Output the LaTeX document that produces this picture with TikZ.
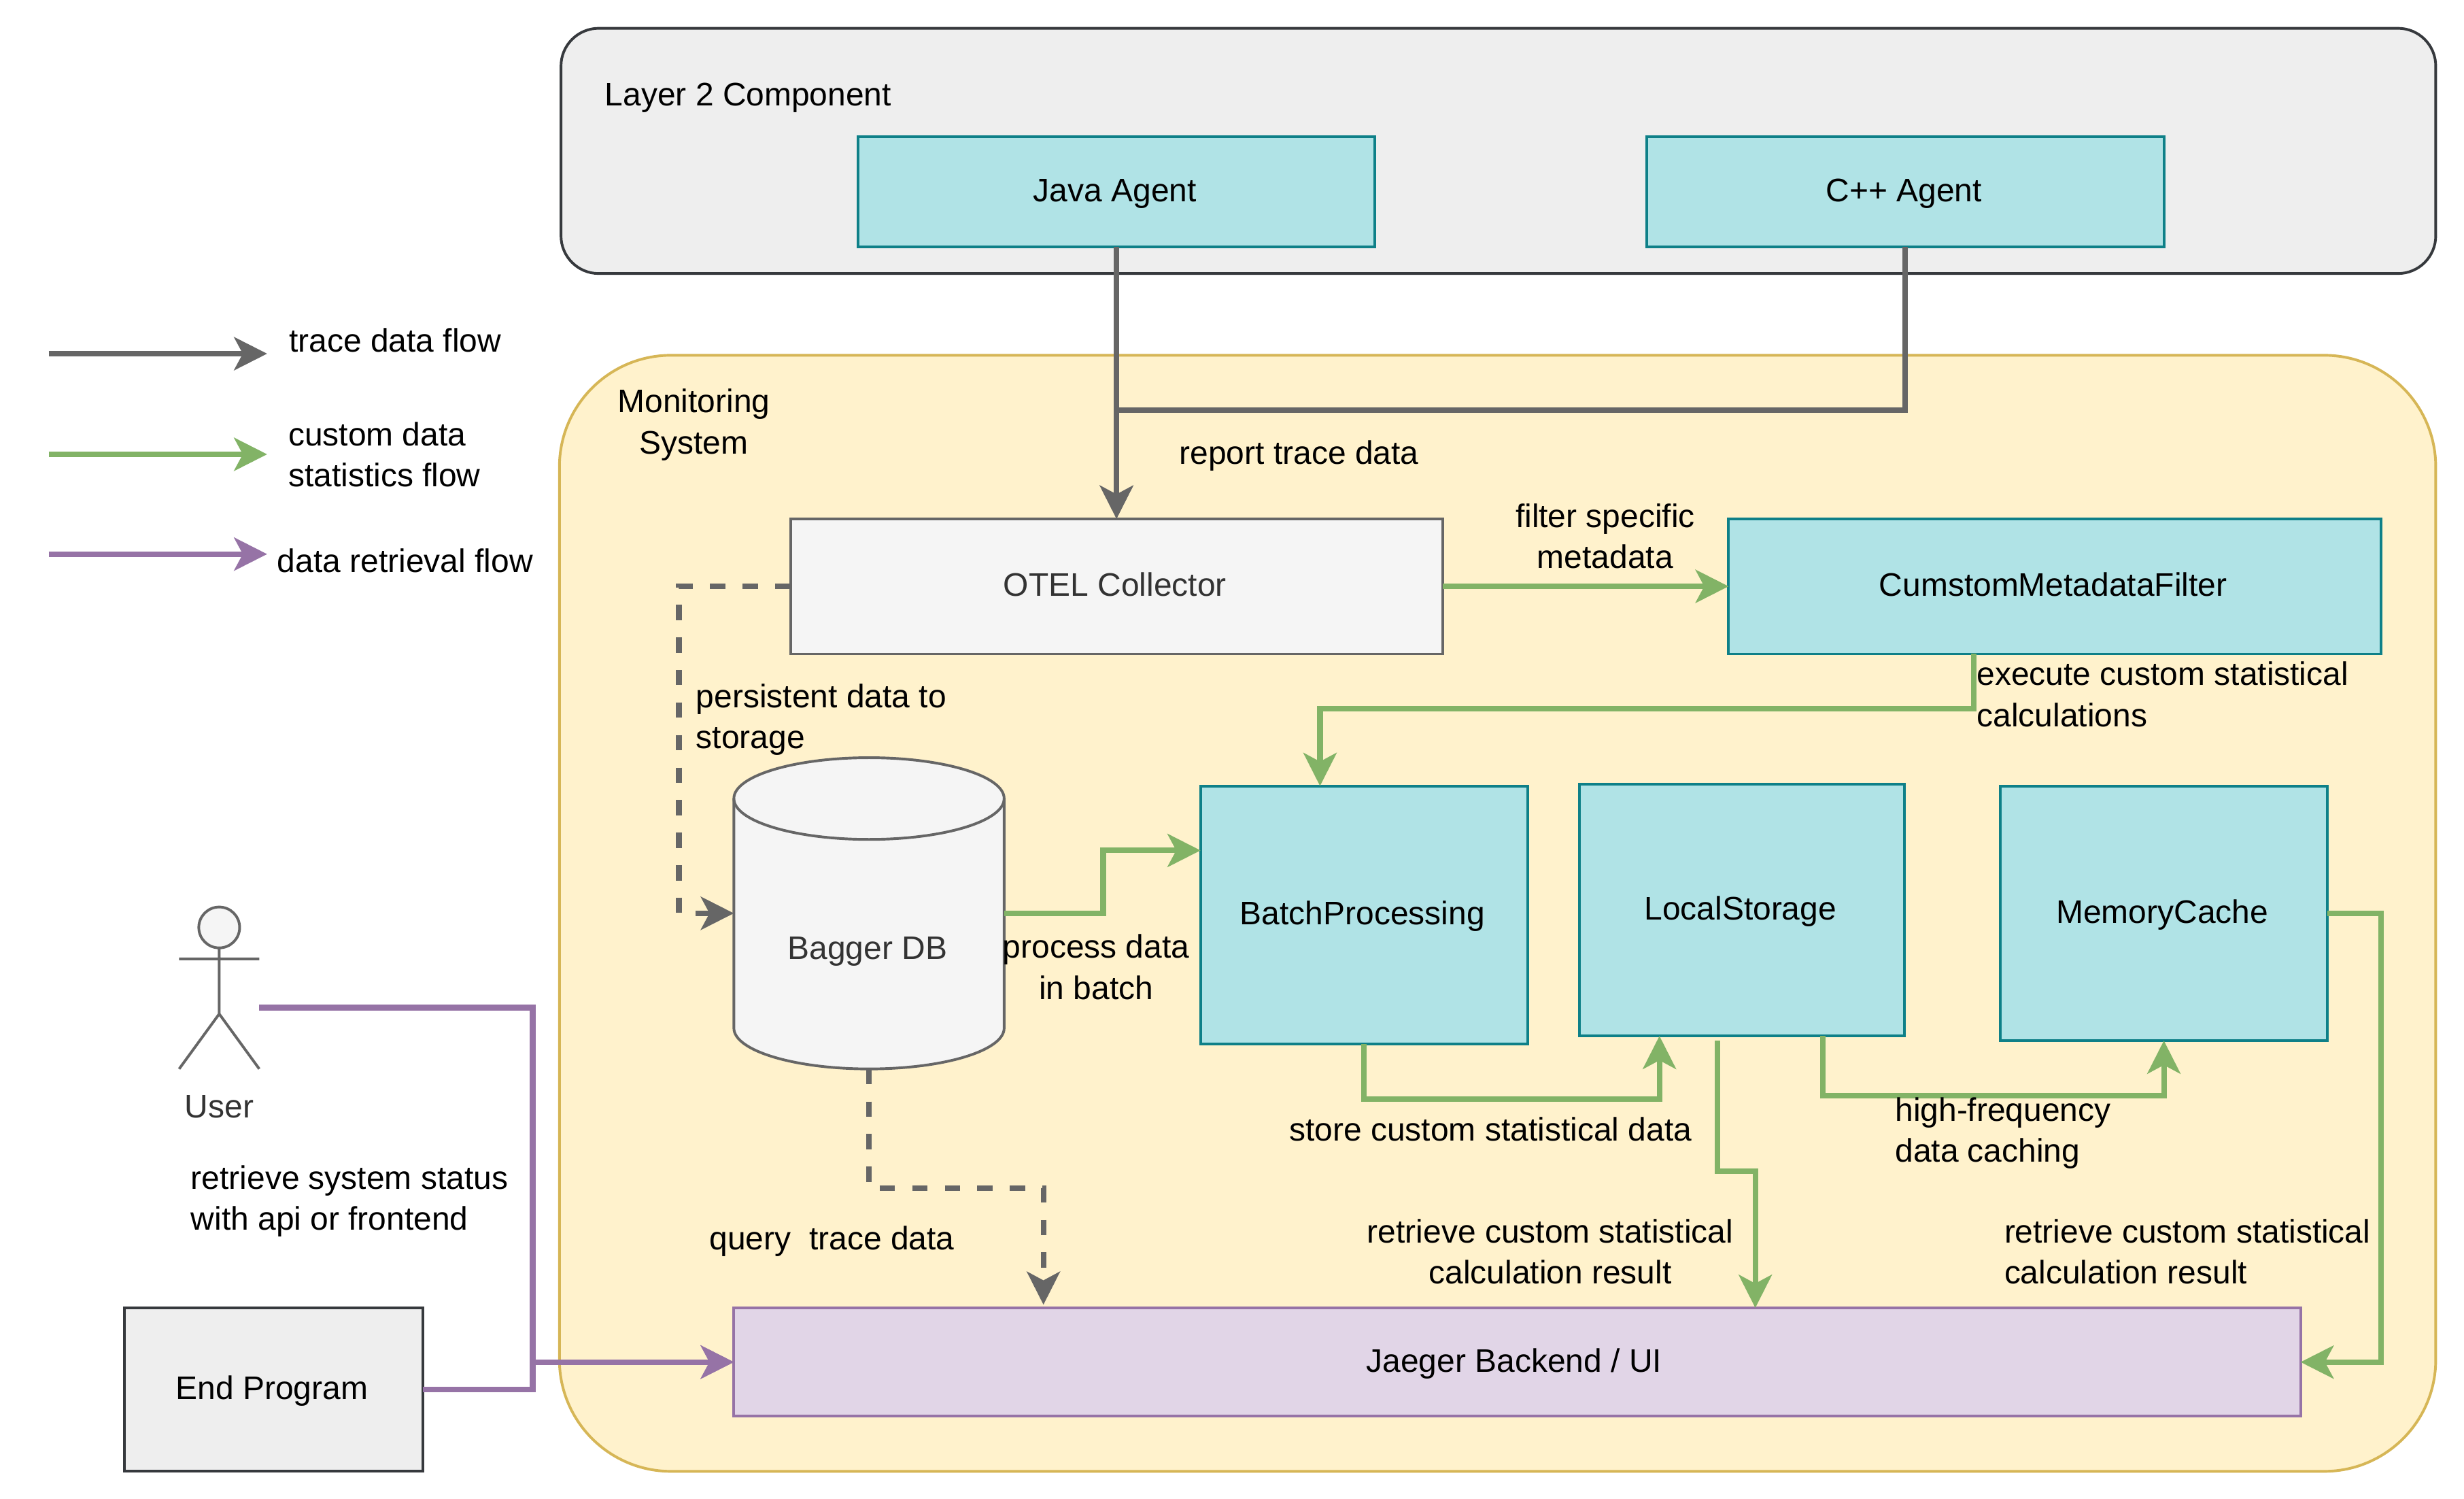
\documentclass[tikz,border=0pt]{standalone}
\usepackage{fontspec}
\setmainfont{Liberation Sans}
\usetikzlibrary{arrows.meta}
\definecolor{tealfill}{HTML}{B0E3E6}
\definecolor{tealline}{HTML}{0E8088}
\definecolor{greyfill}{HTML}{EEEEEE}
\definecolor{greyline}{HTML}{36393D}
\definecolor{yelfill}{HTML}{FFF2CC}
\definecolor{yelline}{HTML}{D6B656}
\definecolor{lightfill}{HTML}{F5F5F5}
\definecolor{midline}{HTML}{666666}
\definecolor{labelgrey}{HTML}{333333}
\definecolor{purfill}{HTML}{E1D5E7}
\definecolor{purline}{HTML}{9673A6}
\definecolor{grnline}{HTML}{82B366}
\tikzset{
  x=1pt,y=-1pt,
  >={Stealth[length=21pt,width=21pt,inset=5.5pt]},
  txt/.style={font=\fontsize{20.75}{26}\selectfont,inner sep=0pt,outer sep=0pt,
     execute at begin node={\rule{0pt}{20.2pt}},execute at end node=\strut},
  lbl/.style={txt,align=left,anchor=west,yshift=-1pt},
  clbl/.style={txt,align=center,anchor=center,yshift=-1pt},
  twolines/.style={yshift=-2pt},
  boxbase/.style={txt,draw,line width=1.7pt,align=center},
  tealbox/.style={boxbase,fill=tealfill,draw=tealline},
  greybox/.style={boxbase,fill=greyfill,draw=greyline},
  lightbox/.style={boxbase,fill=lightfill,draw=midline,text=labelgrey},
  purbox/.style={boxbase,fill=purfill,draw=purline},
  trace/.style={draw=midline,line width=3.5pt,->},
  tracedash/.style={trace,dash pattern=on 9.7pt off 11pt},
  stat/.style={draw=grnline,line width=3.5pt,->},
  retr/.style={draw=purline,line width=3.5pt,->},
}
\begin{document}
\begin{tikzpicture}
\useasboundingbox (0,0) rectangle (1568,953.6);
% containers
\node[greybox,rounded corners=24pt,minimum width=1193,minimum height=156] (layer) at (953.5,96) {};
\node[boxbase,fill=yelfill,draw=yelline,rounded corners=71pt,minimum width=1194,minimum height=710] (mon) at (953,581) {};
% agents
\node[tealbox,minimum width=329,minimum height=70] (java) at (710.5,122) {\hspace*{-2pt}Java Agent};
\node[tealbox,minimum width=329,minimum height=70] (cpp) at (1212.5,122) {\hspace*{-2pt}C++ Agent};
% components
\node[lightbox,minimum width=415,minimum height=86] (otel) at (710.5,373) {\hspace*{-2pt}OTEL Collector};
\node[tealbox,minimum width=415,minimum height=86] (filter) at (1307.5,373) {\hspace*{-2pt}CumstomMetadataFilter};
\node[tealbox,minimum width=208,minimum height=164] (batch) at (868,582) {\hspace*{-2pt}BatchProcessing};
\node[tealbox,minimum width=207,minimum height=160] (local) at (1108.5,579) {\hspace*{-2pt}LocalStorage};
\node[tealbox,minimum width=208,minimum height=162] (mem) at (1377,581) {\hspace*{-2pt}MemoryCache};
\node[purbox,minimum width=997,minimum height=69] (jaeger) at (965.5,866.5) {\hspace*{-4pt}Jaeger Backend / UI};
\node[greybox,minimum width=190,minimum height=104] (endp) at (174,884) {\hspace*{-2pt}End Program};
% database cylinder
\draw[fill=lightfill,draw=midline,line width=1.7pt]
  (467,508) .. controls (467,493.6) and (505.5,482) .. (553,482)
  .. controls (600.5,482) and (639,493.6) .. (639,508) -- (639,654)
  .. controls (639,668.4) and (600.5,680) .. (553,680)
  .. controls (505.5,680) and (467,668.4) .. (467,654) -- cycle;
\draw[draw=midline,line width=1.7pt]
  (467,508) .. controls (467,522.4) and (505.5,534) .. (553,534)
  .. controls (600.5,534) and (639,522.4) .. (639,508);
\node[inner sep=0pt,outer sep=0pt,minimum width=172,minimum height=198] (db) at (553,581) {};
\node[clbl,text=labelgrey] (dblabel) at (552,603) {Bagger DB};
% user actor
\node[inner sep=0pt,outer sep=0pt,minimum width=51,minimum height=103] (user) at (139.5,628.5) {};
\draw[draw=midline,line width=1.7pt,fill=lightfill] (139.5,590) circle (13pt);
\draw[draw=midline,line width=1.7pt,line join=miter]
  (139.5,603) -- (139.5,645) (114,610) -- (165,610)
  (114,680) -- (139.5,645) -- (165,680);
\node[clbl,text=labelgrey] (userlabel) at (139.5,704) {User};
% legend
\coordinate (la1) at (31,225); \coordinate (lb1) at (170,225);
\coordinate (la2) at (31,289); \coordinate (lb2) at (170,289);
\coordinate (la3) at (31,352.5); \coordinate (lb3) at (170,352.5);
\draw[trace] (la1) -- (lb1);
\draw[stat] (la2) -- (lb2);
\draw[retr] (la3) -- (lb3);
% trace flow
\draw[trace] (java.south) -- (otel.north);
\draw[trace] (cpp.south) -- ++(0,104) -| (otel.north);
\draw[tracedash] (otel.west) -- ++(-71,0) |- (db.west);
\draw[tracedash] (db.south) -- ++(0,76) -| ([xshift=-301.5pt,yshift=2pt]jaeger.north);
% statistics flow
\draw[stat] (otel.east) -- (filter.west);
\draw[stat] ([xshift=-51.5pt]filter.south) -- ++(0,35) -| ([xshift=-28pt]batch.north);
\draw[stat] (db.east) -- ++(63,0) |- ([yshift=41pt]batch.west);
\draw[stat] (batch.south) -- ++(0,35) -| ([xshift=-52.5pt]local.south);
\draw[stat] ([xshift=-15.5pt,yshift=-3pt]local.south) -- ++(0,83) -| ([xshift=151.5pt]jaeger.north);
\draw[stat] ([xshift=51.5pt]local.south) -- ++(0,38) -| (mem.south);
\draw[stat] (mem.east) -- ++(34,0) |- (jaeger.east);
% retrieval flow
\draw[retr] ([yshift=-12.5pt]user.east) -- ++(174,0) |- (jaeger.west);
\draw[retr] (endp.east) -- ++(70,0) |- (jaeger.west);
% labels
\node[lbl] (t1) at (385,60) {Layer 2 Component};
\node[lbl] (t2) at (184,216.5) {trace data flow};
\node[lbl,twolines] (t3) at (183.5,290) {custom data\\statistics flow};
\node[lbl] (t4) at (176.5,357) {data retrieval flow};
\node[clbl,twolines] (t5) at (441.5,269) {Monitoring\\System};
\node[lbl] (t6) at (750.5,288) {report trace data};
\node[clbl,twolines] (t7) at (1021.5,342) {filter specific\\metadata};
\node[lbl,twolines] (t8) at (443,456.5) {persistent data to\\storage};
\node[lbl,twolines] (t9) at (1258,442.5) {execute custom statistical\\calculations};
\node[clbl,twolines] (t10) at (697.5,616) {process data\\in batch};
\node[lbl] (t11) at (820.5,718.5) {store custom statistical data};
\node[lbl,twolines] (t12) at (1206,719.5) {high-frequency\\data caching};
\node[lbl] (t13) at (451.5,788) {query\ \ trace data};
\node[clbl,twolines] (t14) at (986.5,797) {retrieve custom statistical\\calculation result};
\node[lbl,twolines] (t15) at (1275.5,797) {retrieve custom statistical\\calculation result};
\node[lbl,twolines] (t16) at (121.5,763) {retrieve system status\\with api or frontend};
\end{tikzpicture}
\end{document}
